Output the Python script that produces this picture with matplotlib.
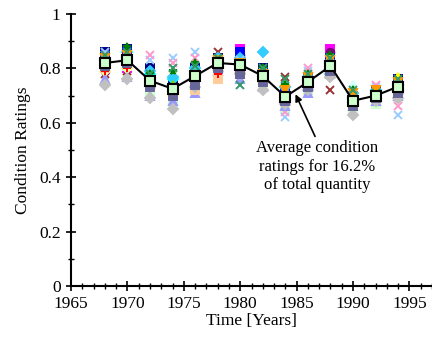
import matplotlib
matplotlib.use("Agg")
import matplotlib.pyplot as plt
from matplotlib.ticker import MultipleLocator

plt.rcParams['font.family'] = ['Liberation Serif', 'DejaVu Serif']

years = [1968, 1970, 1972, 1974, 1976, 1978, 1980, 1982, 1984, 1986, 1988, 1990, 1992, 1994]

# ratings of each inspected group, one list per survey year (index = group)
r1968 = [0.86, 0.84, 0.80, 0.83, 0.79, 0.78, 0.82, 0.85, 0.83, 0.80, 0.81, 0.79, 0.86, 0.85, 0.76, 0.80, 0.84, 0.74, 0.79, 0.82, 0.83, 0.84, 0.81, 0.85]
r1970 = [0.87, 0.80, 0.84, 0.86, 0.82, 0.79, 0.85, 0.86, 0.84, 0.83, 0.81, 0.80, 0.85, 0.84, 0.77, 0.82, 0.88, 0.76, 0.80, 0.83, 0.84, 0.85, 0.82, 0.86]
r1972 = [0.80, 0.74, 0.76, 0.78, 0.73, 0.71, 0.77, 0.75, 0.79, 0.72, 0.71, 0.74, 0.83, 0.85, 0.70, 0.73, 0.78, 0.69, 0.74, 0.76, 0.77, 0.75, 0.73, 0.78]
r1974 = [0.75, 0.70, 0.72, 0.76, 0.71, 0.68, 0.74, 0.72, 0.77, 0.69, 0.67, 0.70, 0.84, 0.82, 0.68, 0.71, 0.79, 0.65, 0.72, 0.73, 0.74, 0.72, 0.70, 0.80]
r1976 = [0.80, 0.77, 0.74, 0.78, 0.76, 0.75, 0.79, 0.77, 0.80, 0.74, 0.73, 0.76, 0.86, 0.84, 0.71, 0.72, 0.82, 0.73, 0.75, 0.77, 0.78, 0.76, 0.74, 0.81]
r1978 = [0.84, 0.80, 0.82, 0.83, 0.79, 0.86, 0.81, 0.82, 0.84, 0.80, 0.80, 0.81, 0.83, 0.82, 0.79, 0.76, 0.83, 0.80, 0.78, 0.82, 0.81, 0.83, 0.80, 0.84]
r1980 = [0.83, 0.87, 0.80, 0.82, 0.85, 0.79, 0.81, 0.86, 0.84, 0.78, 0.79, 0.80, 0.83, 0.82, 0.76, 0.80, 0.82, 0.78, 0.79, 0.81, 0.80, 0.82, 0.78, 0.74]
r1982 = [0.80, 0.76, 0.78, 0.79, 0.75, 0.77, 0.78, 0.77, 0.86, 0.74, 0.73, 0.75, 0.79, 0.78, 0.73, 0.75, 0.80, 0.72, 0.76, 0.77, 0.79, 0.78, 0.75, 0.80]
r1984 = [0.72, 0.68, 0.70, 0.71, 0.67, 0.77, 0.69, 0.71, 0.73, 0.66, 0.65, 0.68, 0.62, 0.64, 0.66, 0.69, 0.74, 0.67, 0.70, 0.71, 0.69, 0.72, 0.68, 0.76]
r1986 = [0.77, 0.72, 0.75, 0.76, 0.73, 0.74, 0.76, 0.75, 0.77, 0.73, 0.72, 0.74, 0.79, 0.80, 0.71, 0.74, 0.78, 0.72, 0.75, 0.76, 0.75, 0.77, 0.73, 0.78]
r1988 = [0.83, 0.87, 0.80, 0.82, 0.86, 0.72, 0.81, 0.84, 0.78, 0.79, 0.80, 0.81, 0.83, 0.82, 0.78, 0.80, 0.85, 0.77, 0.79, 0.81, 0.82, 0.83, 0.79, 0.84]
r1990 = [0.70, 0.66, 0.68, 0.69, 0.67, 0.69, 0.68, 0.67, 0.71, 0.74, 0.64, 0.66, 0.70, 0.69, 0.66, 0.67, 0.72, 0.63, 0.68, 0.69, 0.70, 0.71, 0.66, 0.72]
r1992 = [0.72, 0.69, 0.70, 0.71, 0.68, 0.70, 0.71, 0.70, 0.72, 0.68, 0.67, 0.69, 0.73, 0.74, 0.68, 0.69, 0.72, 0.68, 0.70, 0.71, 0.70, 0.72, 0.69, 0.71]
r1994 = [0.76, 0.72, 0.77, 0.74, 0.71, 0.73, 0.75, 0.74, 0.72, 0.70, 0.69, 0.72, 0.63, 0.66, 0.70, 0.71, 0.75, 0.69, 0.72, 0.73, 0.74, 0.75, 0.71, 0.76]

average = [0.82, 0.83, 0.755, 0.725, 0.772, 0.82, 0.814, 0.772, 0.696, 0.75, 0.809, 0.681, 0.70, 0.733]

colors = ['#000080', '#FF00FF', '#FFFF00', '#00FFFF', '#800080', '#993333',
          '#008080', '#0000FF', '#33CCFF', '#CCFFFF', '#CCFFCC', '#FFFF99',
          '#99CCFF', '#FF99CC', '#9999FF', '#FFCC99', '#008000', '#C0C0C0',
          '#FF0000', '#33CCCC', '#99CC00', '#FF9900', '#666699', '#339966']
markers = ['s', 's', '^', 'D', 'o', 'x', '*', 's', 'D', '^', 's', 'D',
           'x', 'x', '^', 's', '*', 'D', '+', 'o', '^', 'v', 's', 'x']

by_year = [r1968, r1970, r1972, r1974, r1976, r1978, r1980,
           r1982, r1984, r1986, r1988, r1990, r1992, r1994]

fig = plt.figure(figsize=(4.32, 3.49), dpi=100)
ax = fig.add_axes([0.1644, 0.1805, 0.8356, 0.7794])

for i in range(len(colors)):
    vals = [row[i] for row in by_year]
    ax.plot(years, vals, linestyle='none', marker=markers[i], color=colors[i],
            markersize=5.5, markeredgewidth=1.4)

ax.plot(years, average, color='black', linewidth=1.5, marker='s',
        markersize=7, markerfacecolor='#CCFFCC', markeredgecolor='black',
        markeredgewidth=1.5, zorder=5)

ax.annotate('Average condition\nratings for 16.2%\nof total quantity',
            xy=(1984.9, 0.705), xytext=(1986.8, 0.535),
            ha='center', va='top', fontsize=12, linespacing=1.2,
            arrowprops=dict(arrowstyle='-|>', color='black', lw=1.2,
                            mutation_scale=10, shrinkA=1, shrinkB=0,
                            relpos=(0.5, 1.0)))

ax.set_xlim(1965, 1997)
ax.set_ylim(0, 1)
ax.xaxis.set_major_locator(MultipleLocator(5))
ax.xaxis.set_minor_locator(MultipleLocator(1))
ax.yaxis.set_major_locator(MultipleLocator(0.2))
ax.yaxis.set_minor_locator(MultipleLocator(0.1))
ax.set_yticks([0, 0.2, 0.4, 0.6, 0.8, 1])
ax.set_yticklabels(['0', '0.2', '0.4', '0.6', '0.8', '1'])

for side in ['top', 'right']:
    ax.spines[side].set_visible(False)
for side in ['left', 'bottom']:
    ax.spines[side].set_linewidth(1.5)
ax.tick_params(which='major', direction='inout', length=7, width=1.2, labelsize=12.5)
ax.tick_params(which='minor', direction='inout', length=4, width=1)
ax.tick_params(axis='y', pad=4)

ax.set_xlabel('Time [Years]', fontsize=12.5, labelpad=1)
ax.set_ylabel('Condition Ratings', fontsize=12.5, labelpad=6)

fig.savefig('out.png', dpi=100)
